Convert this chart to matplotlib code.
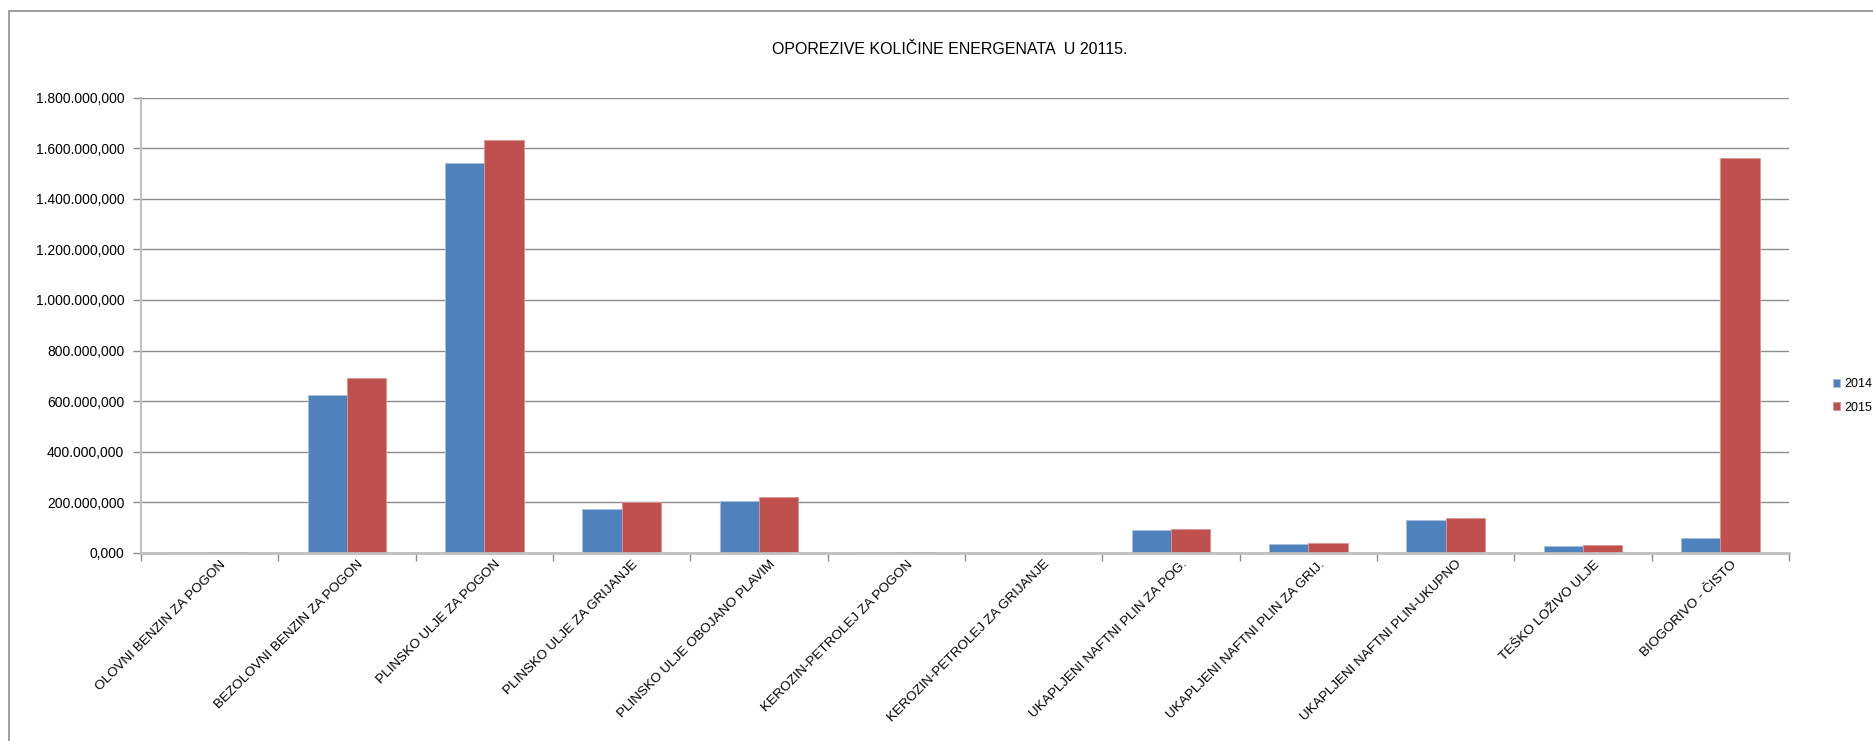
import matplotlib
matplotlib.use("Agg")
import matplotlib.pyplot as plt
from matplotlib.ticker import FuncFormatter, FixedLocator
from matplotlib.patches import Rectangle
from matplotlib.transforms import ScaledTranslation
import numpy as np

plt.rcParams['font.family'] = ['Liberation Sans', 'DejaVu Sans']

title = "OPOREZIVE KOLIČINE ENERGENATA  U 20115."
categories = [
    "OLOVNI BENZIN ZA POGON",
    "BEZOLOVNI BENZIN ZA POGON",
    "PLINSKO ULJE ZA POGON",
    "PLINSKO ULJE ZA GRIJANJE",
    "PLINSKO ULJE OBOJANO PLAVIM",
    "KEROZIN-PETROLEJ ZA POGON",
    "KEROZIN-PETROLEJ ZA GRIJANJE",
    "UKAPLJENI NAFTNI PLIN ZA POG.",
    "UKAPLJENI NAFTNI PLIN ZA GRIJ.",
    "UKAPLJENI NAFTNI PLIN-UKUPNO",
    "TEŠKO LOŽIVO ULJE",
    "BIOGORIVO - ČISTO",
]
series_names = ["2014", "2015"]
values_2014 = [1500, 626000, 1542000, 173000, 204000, 3000, 500, 92000, 36000, 129000, 28000, 59000]
values_2015 = [1200, 690000, 1632000, 199000, 219000, 2500, 400, 95000, 40000, 136000, 29000, 1563000]
yticks = [0, 200000, 400000, 600000, 800000, 1000000, 1200000, 1400000, 1600000, 1800000]

colors = ["#4F81BD", "#C0504D"]

W, H = 1874, 741
fig = plt.figure(figsize=(W / 100, H / 100), dpi=100)
ax = fig.add_axes([141 / W, 1 - 552.8 / H, (1789 - 141) / W, (552.8 - 97.7) / H])

# outer chart frame
fig.add_artist(Rectangle((9.5 / W, -0.1), 1.2, (1 - 10.5 / H) + 0.1, transform=fig.transFigure,
                         fill=False, edgecolor="#8c8c8c", linewidth=1.2))

x = np.arange(len(categories))
bw = 1 / 3.5
ax.bar(x - bw / 2, values_2014, bw, color=colors[0], edgecolor="#a7c0de", linewidth=0.6, label=series_names[0], zorder=3)
ax.bar(x + bw / 2, values_2015, bw, color=colors[1], edgecolor="#d99694", linewidth=0.6, label=series_names[1], zorder=3)

ax.set_xlim(-0.5, len(categories) - 0.5)
ax.set_ylim(0, 1800000)
ax.yaxis.set_major_locator(FixedLocator(yticks))

def fmt(v, pos):
    s = f"{v:,.3f}"
    return s.replace(",", "X").replace(".", ",").replace("X", ".")

ax.yaxis.set_major_formatter(FuncFormatter(fmt))
ax.grid(axis="y", color="#8c8c8c", linewidth=1.0, zorder=0)
ax.set_axisbelow(True)

ax.set_xticks(np.arange(len(categories) + 1) - 0.5)
ax.set_xticklabels([])
ax.set_xticks(x, minor=True)
ax.set_xticklabels(categories, minor=True, rotation=45, ha="right", va="top",
                   rotation_mode="anchor", fontsize=9.7, color="#000000")
ax.tick_params(axis="x", which="minor", length=0, pad=4)
ax.tick_params(axis="x", which="major", length=6, color="#8c8c8c", width=1)
ax.tick_params(axis="y", length=6, color="#8c8c8c", width=1, labelsize=10, pad=6)
off = ScaledTranslation(10 / 100, 0, fig.dpi_scale_trans)
for lab in ax.get_xticklabels(minor=True):
    lab.set_transform(lab.get_transform() + off)

for s in ["top", "right"]:
    ax.spines[s].set_visible(False)
ax.spines["left"].set_color("#bfbfbf")
ax.spines["left"].set_linewidth(1.5)
ax.spines["bottom"].set_color("#bfbfbf")
ax.spines["bottom"].set_linewidth(2)
ax.spines["bottom"].set_zorder(4)

fig.text(950 / W, 1 - 49 / H, title, ha="center", va="center", fontsize=11.5)

leg = fig.legend(loc="center left", bbox_to_anchor=(1833 / W, 1 - 396 / H), frameon=False,
                 fontsize=9, handlelength=0.6, handleheight=0.6, handletextpad=0.3,
                 labelspacing=0.9, borderaxespad=0, borderpad=0)

fig.savefig("out.png", dpi=100)
